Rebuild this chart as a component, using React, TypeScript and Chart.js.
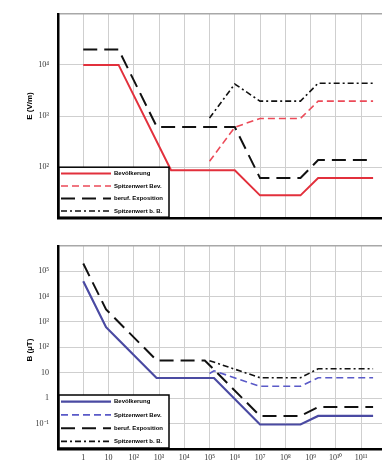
import React, { useEffect, useRef } from 'react';
import { Chart, registerables } from 'chart.js';
Chart.register(...registerables);

// Frequency axis (Hz)
const fTickVals = [1, 10, 1e2, 1e3, 1e4, 1e5, 1e6, 1e7, 1e8, 1e9, 1e10, 1e11];
const fTickLabels = ['1', '10', '10²', '10³', '10⁴', '10⁵', '10⁶', '10⁷', '10⁸', '10⁹', '10¹⁰', '10¹¹'];

// E field (V/m)
const eTickVals = [10, 100, 1e3, 1e4, 1e5];
const eTickLabels = ['', '10²', '10³', '10⁴', ''];
const eBevF = [1, 25, 3000, 1e6, 1e7, 4e8, 2e9, 3e11];
const eBevV = [1e4, 1e4, 87, 87, 28, 28, 61, 61];
const eSpBevF = [1e5, 1e6, 1e7, 4e8, 2e9, 3e11];
const eSpBevV = [130, 603, 896, 896, 1952, 1952];
const eBerF = [1, 25, 820, 1e6, 1e7, 4e8, 2e9, 3e11];
const eBerV = [2e4, 2e4, 610, 610, 61, 61, 137, 137];
const eSpBerF = [1e5, 1e6, 1e7, 4e8, 2e9, 3e11];
const eSpBerV = [915, 4226, 1952, 1952, 4384, 4384];

// B field (µT)
const bTickVals = [0.01, 0.1, 1, 10, 100, 1e3, 1e4, 1e5, 1e6];
const bTickLabels = ['', '10⁻¹', '1', '10', '10²', '10³', '10⁴', '10⁵', ''];
const bBevF = [1, 8, 25, 800, 1.5e5, 1e7, 4e8, 2e9, 3e11];
const bBevV = [4e4, 625, 200, 6.25, 6.25, 0.092, 0.092, 0.2, 0.2];
const bSpBevF = [1e5, 1.5e5, 1e7, 4e8, 2e9, 3e11];
const bSpBevV = [9.4, 12.0, 2.94, 2.94, 6.4, 6.4];
const bBerF = [1, 8, 820, 6.5e4, 1e7, 4e8, 2e9, 3e11];
const bBerV = [2e5, 3125, 30.5, 30.7, 0.2, 0.2, 0.45, 0.45];
const bSpBerF = [1e5, 1e7, 4e8, 2e9, 3e11];
const bSpBerV = [30, 6.4, 6.4, 14.4, 14.4];

const seriesNames = ['Bevölkerung', 'Spitzenwert Bev.', 'beruf. Exposition', 'Spitzenwert b. B.'];

const RED = '#e2303c';
const RED_D = '#ec4a58';
const BLUE = '#4a4aa2';
const BLUE_D = '#5a5ac8';
const BLACK = '#111111';

const DASH_SP = [7, 4];
const DASH_BER = [14, 7];
const DASH_SPB = [6, 3, 2, 3];

const pts = (f: number[], v: number[]) => f.map((x, i) => ({ x, y: v[i] }));
const lbl = (vals: number[], labels: string[], value: number) => {
  const i = vals.findIndex((v) => Math.abs(Math.log10(v) - Math.log10(value)) < 1e-6);
  return i >= 0 ? labels[i] : '';
};

function makeOverlay(title: string, titleY: number, colors: string[], widths: number[], dashes: number[][], boxH: number) {
  return {
    id: 'overlay',
    afterDatasetsDraw(chart: any) {
      const { ctx, chartArea } = chart;
      ctx.save();
      const x0 = chartArea.left + 1;
      const y1 = chartArea.bottom - 1;
      const w = 110;
      const y0 = y1 - boxH;
      ctx.fillStyle = '#ffffff';
      ctx.fillRect(x0, y0, w, boxH);
      ctx.strokeStyle = '#000';
      ctx.lineWidth = 1.5;
      ctx.strokeRect(x0, y0, w, boxH);
      const rowH = boxH / 4;
      seriesNames.forEach((name, i) => {
        const yy = y0 + rowH * (i + 0.5);
        ctx.beginPath();
        ctx.setLineDash(dashes[i]);
        ctx.strokeStyle = colors[i];
        ctx.lineWidth = widths[i];
        ctx.moveTo(x0 + 2, yy);
        ctx.lineTo(x0 + 52, yy);
        ctx.stroke();
        ctx.setLineDash([]);
        ctx.fillStyle = '#000';
        ctx.font = 'bold 6px "Liberation Sans", Arial, sans-serif';
        ctx.textBaseline = 'middle';
        ctx.textAlign = 'left';
        ctx.fillText(name, x0 + 55, yy);
      });
      ctx.translate(30, titleY);
      ctx.rotate(-Math.PI / 2);
      ctx.fillStyle = '#000';
      ctx.font = 'bold 8px "Liberation Sans", Arial, sans-serif';
      ctx.textAlign = 'center';
      ctx.textBaseline = 'middle';
      ctx.fillText(title, 0, 0);
      ctx.restore();
    },
  };
}

function buildConfig(opts: {
  data: { f: number[]; v: number[] }[];
  colors: string[];
  widths: number[];
  yMin: number;
  yMax: number;
  yVals: number[];
  yLabels: string[];
  showX: boolean;
  padTop: number;
  padBottom: number;
  title: string;
  titleY: number;
  boxH: number;
}): any {
  const dashes = [[], DASH_SP, DASH_BER, DASH_SPB];
  const lastY = opts.yVals.length - 1;
  return {
    type: 'line',
    data: {
      datasets: opts.data.map((d, i) => ({
        label: seriesNames[i],
        data: pts(d.f, d.v),
        borderColor: opts.colors[i],
        borderWidth: opts.widths[i],
        borderDash: dashes[i],
        pointRadius: 0,
        tension: 0,
        fill: false,
      })),
    },
    options: {
      animation: false,
      responsive: false,
      maintainAspectRatio: false,
      layout: { padding: { left: 0, right: 0, top: opts.padTop, bottom: opts.padBottom } },
      plugins: { legend: { display: false }, tooltip: { enabled: false } },
      scales: {
        x: {
          type: 'logarithmic',
          min: 0.1,
          max: Math.pow(10, 11.83),
          afterBuildTicks: (s: any) => {
            s.ticks = fTickVals.map((v) => ({ value: v }));
          },
          afterFit: (s: any) => {
            s.height = opts.showX ? 15 : 0;
          },
          grid: { color: '#cfcfcf', lineWidth: 1, drawTicks: false },
          border: { color: '#000', width: 2.5 },
          ticks: {
            display: opts.showX,
            autoSkip: false,
            maxRotation: 0,
            padding: 4,
            color: '#333',
            font: { family: '"Liberation Serif", serif', size: 8 },
            callback: (v: any) => lbl(fTickVals, fTickLabels, Number(v)),
          },
        },
        y: {
          type: 'logarithmic',
          min: opts.yMin,
          max: opts.yMax,
          afterBuildTicks: (s: any) => {
            s.ticks = opts.yVals.map((v) => ({ value: v }));
          },
          afterFit: (s: any) => {
            s.width = 58;
          },
          grid: {
            color: (c: any) => (c.index === lastY ? '#a8a8a8' : '#cfcfcf'),
            lineWidth: (c: any) => (c.index === lastY ? 1.5 : 1),
            drawTicks: false,
          },
          border: { color: '#000', width: 2.5 },
          ticks: {
            autoSkip: false,
            padding: 9,
            color: '#333',
            font: { family: '"Liberation Serif", serif', size: 8 },
            callback: (v: any) => lbl(opts.yVals, opts.yLabels, Number(v)),
          },
        },
      },
    },
    plugins: [makeOverlay(opts.title, opts.titleY, opts.colors, opts.widths, dashes, opts.boxH)],
  };
}

export default function App() {
  const topRef = useRef<HTMLCanvasElement>(null);
  const botRef = useRef<HTMLCanvasElement>(null);

  useEffect(() => {
    const top = new Chart(
      topRef.current as HTMLCanvasElement,
      buildConfig({
        data: [
          { f: eBevF, v: eBevV },
          { f: eSpBevF, v: eSpBevV },
          { f: eBerF, v: eBerV },
          { f: eSpBerF, v: eSpBerV },
        ],
        colors: [RED, RED_D, BLACK, BLACK],
        widths: [2, 1.6, 2, 1.6],
        yMin: 10,
        yMax: 1e5,
        yVals: eTickVals,
        yLabels: eTickLabels,
        showX: false,
        padTop: 12,
        padBottom: 6,
        title: 'E (V/m)',
        titleY: 106,
        boxH: 50,
      })
    );
    const bot = new Chart(
      botRef.current as HTMLCanvasElement,
      buildConfig({
        data: [
          { f: bBevF, v: bBevV },
          { f: bSpBevF, v: bSpBevV },
          { f: bBerF, v: bBerV },
          { f: bSpBerF, v: bSpBerV },
        ],
        colors: [BLUE, BLUE_D, BLACK, BLACK],
        widths: [2.2, 1.6, 2, 1.6],
        yMin: 0.01,
        yMax: 1e6,
        yVals: bTickVals,
        yLabels: bTickLabels,
        showX: true,
        padTop: 6,
        padBottom: 0,
        title: 'B (µT)',
        titleY: 118,
        boxH: 53,
      })
    );
    return () => {
      top.destroy();
      bot.destroy();
    };
  }, []);

  return (
    <div style={{ position: 'absolute', left: 0, top: 0, width: 382, height: 464, background: '#fff', overflow: 'hidden' }}>
      <canvas ref={topRef} width={382} height={232} style={{ display: 'block', width: 382, height: 232 }} />
      <canvas ref={botRef} width={382} height={232} style={{ display: 'block', width: 382, height: 232 }} />
    </div>
  );
}
